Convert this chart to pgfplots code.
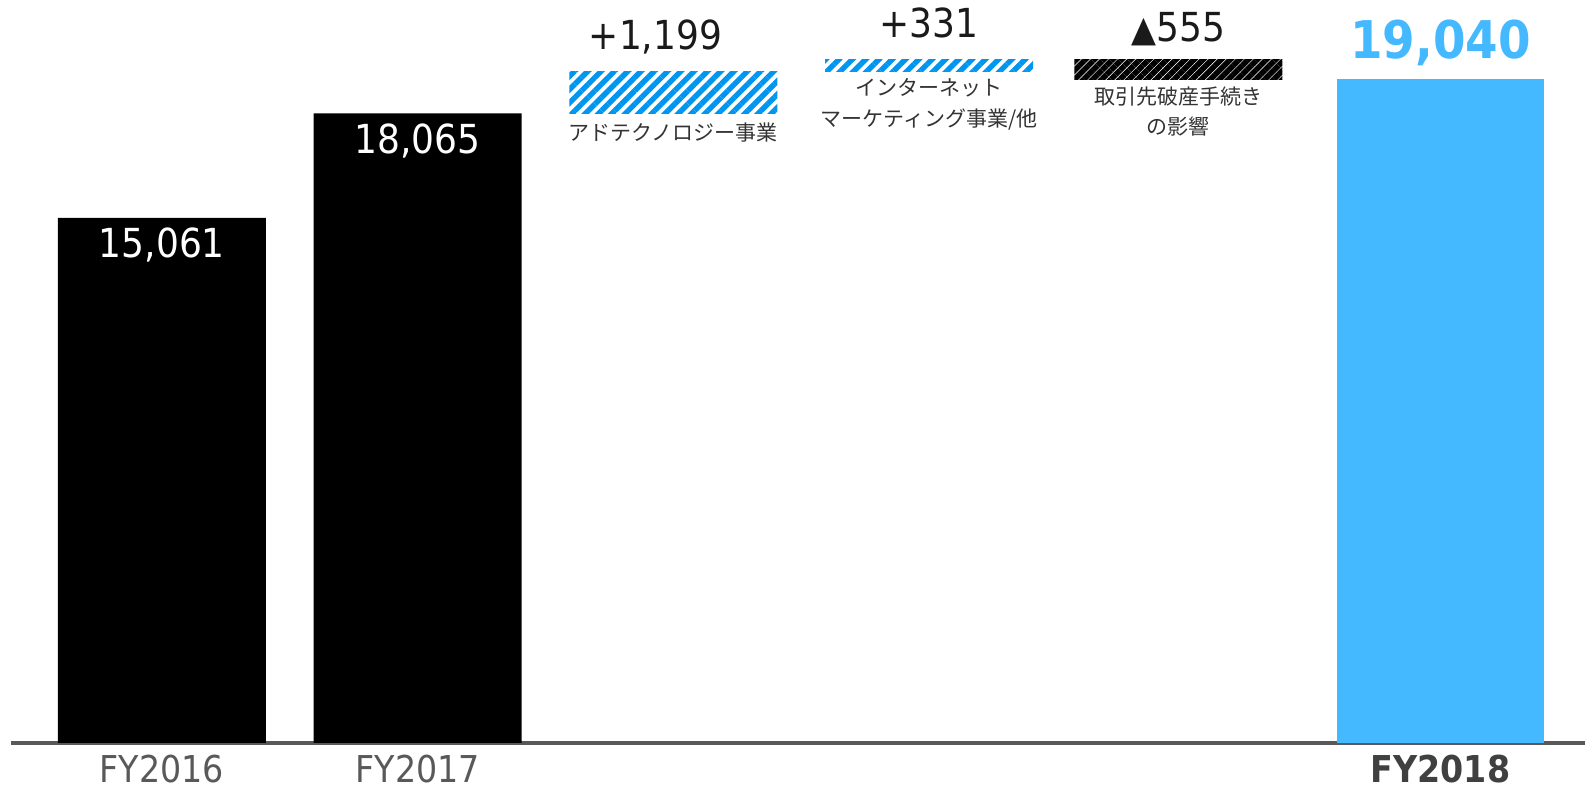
\documentclass[border=0pt]{standalone}
\usepackage{pgfplots}
\pgfplotsset{compat=1.18}
\usepackage{fontspec}
\setmainfont{DejaVu Sans Condensed}
\newfontfamily\jp{Noto Sans CJK JP}
\usetikzlibrary{patterns.meta}
\definecolor{hatchblue}{RGB}{0,150,240}
\definecolor{lightblue}{RGB}{69,185,255}
\definecolor{axisgray}{RGB}{89,89,89}
\definecolor{labgray}{RGB}{89,89,89}
\definecolor{boldgray}{RGB}{64,64,64}
\definecolor{txt}{RGB}{26,26,26}
\definecolor{jpgray}{RGB}{51,51,51}
\begin{document}
\begin{tikzpicture}
\begin{axis}[
  at={(5.5pt,24.5pt)}, anchor=south west,
  scale only axis, width=787pt, height=371.5pt,
  xmin=-0.59, xmax=5.565, ymin=0, ymax=21314,
  axis x line=bottom, axis y line=none,
  axis line style={-, draw=axisgray, line width=1.75pt},
  xtick={0,1,5},
  xticklabels={FY2016,FY2017,{\bfseries\color{boldgray}FY2018}},
  major tick length=0pt,
  xticklabel style={anchor=base, inner sep=0pt, yshift=-20pt, font=\fontsize{18.5}{22}\selectfont, text=labgray},
  ytick=\empty,
  clip=false,
]
% solid bars
\addplot[ybar, bar shift=0pt, bar width=0.813, fill=black, draw=none] coordinates {(0,15061) (1,18065)};
\addplot[ybar, bar shift=0pt, bar width=0.813, fill=lightblue, draw=none] coordinates {(5,19040)};
% floating bars
\addplot[draw=none, pattern={Lines[angle=45,distance=4.7pt,line width=2.7pt]}, pattern color=hatchblue]
  coordinates {(1.5935,18065) (2.4065,18065) (2.4065,19264) (1.5935,19264)} -- cycle;
\addplot[draw=none, pattern={Lines[angle=45,distance=4.7pt,line width=2.7pt]}, pattern color=hatchblue]
  coordinates {(2.5935,19264) (3.4065,19264) (3.4065,19595) (2.5935,19595)} -- cycle;
\addplot[draw=none, pattern={Lines[angle=45,distance=3.2pt,line width=2.8pt]}, pattern color=black]
  coordinates {(3.5685,19040) (4.3815,19040) (4.3815,19595) (3.5685,19595)} -- cycle;
% value labels
\node[anchor=base, yshift=-20pt, text=white, font=\fontsize{20}{24}\selectfont] at (axis cs:0,15061) {15,061};
\node[anchor=base, yshift=-20pt, text=white, font=\fontsize{20}{24}\selectfont] at (axis cs:1,18065) {18,065};
\node[anchor=base, yshift=10.5pt, text=lightblue, font=\bfseries\fontsize{26}{30}\selectfont] at (axis cs:5,19040) {19,040};
\node[anchor=base, text=txt, font=\fontsize{20}{24}\selectfont] at (axis cs:1.93,19880) {+1,199};
\node[anchor=base, text=txt, font=\fontsize{20}{24}\selectfont] at (axis cs:3,20252) {+331};
\node[anchor=base, text=txt, font=\fontsize{20}{24}\selectfont] at (axis cs:3.975,20109) {{\fontsize{18}{20}\selectfont▲}555};
% category labels
\node[anchor=center, text=jpgray, font=\jp\fontsize{10.5}{12}\selectfont] at (axis cs:2,17499) {アドテクノロジー事業};
\node[anchor=center, text=jpgray, font=\jp\fontsize{10.5}{12}\selectfont] at (axis cs:3,18790) {インターネット};
\node[anchor=center, text=jpgray, font=\jp\fontsize{10.5}{12}\selectfont] at (axis cs:3,17872) {マーケティング事業/他};
\node[anchor=center, text=jpgray, font=\jp\fontsize{10.5}{12}\selectfont] at (axis cs:3.975,18532) {取引先破産手続き};
\node[anchor=center, text=jpgray, font=\jp\fontsize{10.5}{12}\selectfont] at (axis cs:3.975,17671) {の影響};
\end{axis}
\pgfresetboundingbox
\path[use as bounding box] (0,0) rectangle (792.5pt,396pt);
\end{tikzpicture}
\end{document}
